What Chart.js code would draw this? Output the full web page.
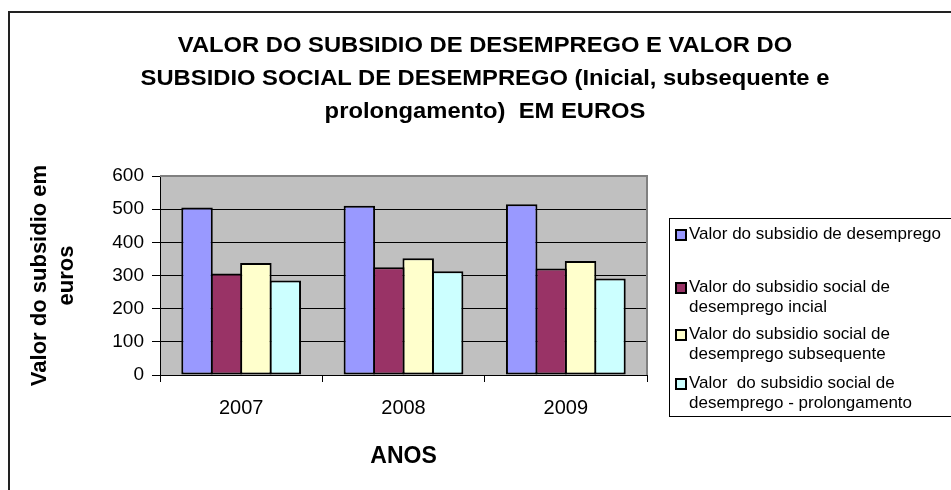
<!DOCTYPE html>
<html>
<head>
<meta charset="utf-8">
<script src="https://cdn.jsdelivr.net/npm/chart.js@4"></script>
<style>
  body { margin: 0; background: #fff; font-family: "Liberation Sans", Arial, sans-serif; }
  #wrap { position: relative; width: 951px; height: 490px; overflow: hidden; }
  #frame { position: absolute; left: 8px; top: 11px; width: 960px; height: 500px;
    border-left: 2px solid #222; border-top: 2px solid #222; }
  #c { position: absolute; left: 0; top: 0; }
  #title { position: absolute; left: 85px; width: 800px; top: 28px; text-align: center;
    font-weight: bold; font-size: 22px; line-height: 33px; color: #000; white-space: nowrap;
    transform: scaleX(1.08); transform-origin: 50% 0; }
  #legend { position: absolute; left: 669px; top: 218px; width: 300px; height: 197px;
    border: 1px solid #000; }
  .item { position: absolute; left: 5px; font-size: 17px; line-height: 20px; color: #000; white-space: nowrap; }
  .sw { position: absolute; left: 0; top: 5px; width: 8px; height: 8px; border: 2px solid #000; }
  .txt { padding-left: 14px; }
</style>
</head>
<body>
<div id="wrap">
  <div id="frame"></div>
  <canvas id="c" width="951" height="490"></canvas>
  <div id="title"></div>
  <div id="legend"></div>
</div>
<script>
const titleLines = [
  "VALOR DO SUBSIDIO DE DESEMPREGO E VALOR DO",
  "SUBSIDIO SOCIAL DE DESEMPREGO (Inicial, subsequente e",
  "prolongamento)  EM EUROS",
];
const years = ["2007", "2008", "2009"];
const subsidio = [505, 510, 515];
const socialInicial = [306, 325, 321];
const socialSubsequente = [338, 352, 344];
const socialProlongamento = [285, 313, 291];
const seriesNames = [
  ["Valor do subsidio de desemprego"],
  ["Valor do subsidio social de", "desemprego incial"],
  ["Valor do subsidio social de", "desemprego subsequente"],
  ["Valor  do subsidio social de", "desemprego - prolongamento"],
];
const yTicks = [0, 100, 200, 300, 400, 500, 600];

const colors = ["#9999ff", "#993366", "#ffffcc", "#ccffff"];
const legendTops = [5, 58, 105, 154];

// keep the double spaces from the original labels
const keepSpaces = (t) => t.replace(/  /g, "&nbsp; ");

document.getElementById("title").innerHTML = titleLines.map(keepSpaces).join("<br>");

const legend = document.getElementById("legend");
seriesNames.forEach((name, i) => {
  const el = document.createElement("div");
  el.className = "item";
  el.style.top = legendTops[i] + "px";
  el.innerHTML =
    '<span class="sw" style="background:' + colors[i] + '"></span>' +
    '<div class="txt">' + name.map(keepSpaces).join("<br>") + "</div>";
  legend.appendChild(el);
});

const plotBg = {
  id: "plotBg",
  beforeDraw(chart) {
    const { ctx, chartArea: a } = chart;
    ctx.save();
    ctx.fillStyle = "#c0c0c0";
    ctx.fillRect(a.left, a.top, a.right - a.left, a.bottom - a.top);
    ctx.restore();
  },
  afterDraw(chart) {
    const { ctx, chartArea: a } = chart;
    ctx.save();
    ctx.strokeStyle = "#808080";
    ctx.lineWidth = 2;
    ctx.beginPath();
    ctx.moveTo(a.left, a.top);
    ctx.lineTo(a.right, a.top);
    ctx.lineTo(a.right, a.bottom);
    ctx.stroke();
    ctx.restore();
  },
};

const seriesData = [subsidio, socialInicial, socialSubsequente, socialProlongamento];

new Chart(document.getElementById("c"), {
  type: "bar",
  data: {
    labels: years,
    datasets: seriesData.map((d, i) => ({
      label: seriesNames[i].join(" "),
      data: d,
      backgroundColor: colors[i],
      borderColor: "#000",
      borderWidth: 2,
      borderSkipped: false,
      barPercentage: 1.07,
      categoryPercentage: 0.725,
    })),
  },
  options: {
    responsive: false,
    animation: false,
    devicePixelRatio: 1,
    layout: { padding: { top: 176, right: 304, left: 0, bottom: 0 } },
    plugins: { legend: { display: false }, tooltip: { enabled: false } },
    scales: {
      x: {
        afterFit: (s) => { s.height = 115; },
        grid: { drawOnChartArea: false, color: "#000", tickLength: 7, offset: true },
        border: { color: "#000" },
        ticks: { color: "#000", font: { family: "Liberation Sans", size: 20 }, padding: 14 },
        title: {
          display: true, text: "ANOS", color: "#000",
          font: { family: "Liberation Sans", size: 23, weight: "bold" },
          padding: { top: 4, bottom: 20 },
        },
      },
      y: {
        min: 0, max: 600,
        afterFit: (s) => { s.width = 160; },
        afterBuildTicks: (s) => { s.ticks = yTicks.map((v) => ({ value: v })); },
        grid: { color: "#000", tickLength: 8 },
        border: { color: "#000" },
        ticks: { color: "#000", font: { family: "Liberation Sans", size: 19 }, padding: 8 },
        title: {
          display: true, text: ["Valor do subsidio em", "euros"], color: "#000",
          font: { family: "Liberation Sans", size: 22, weight: "bold", lineHeight: 1.25 },
          padding: { top: 26, bottom: 0 },
        },
      },
    },
  },
  plugins: [plotBg],
});
</script>
</body>
</html>
